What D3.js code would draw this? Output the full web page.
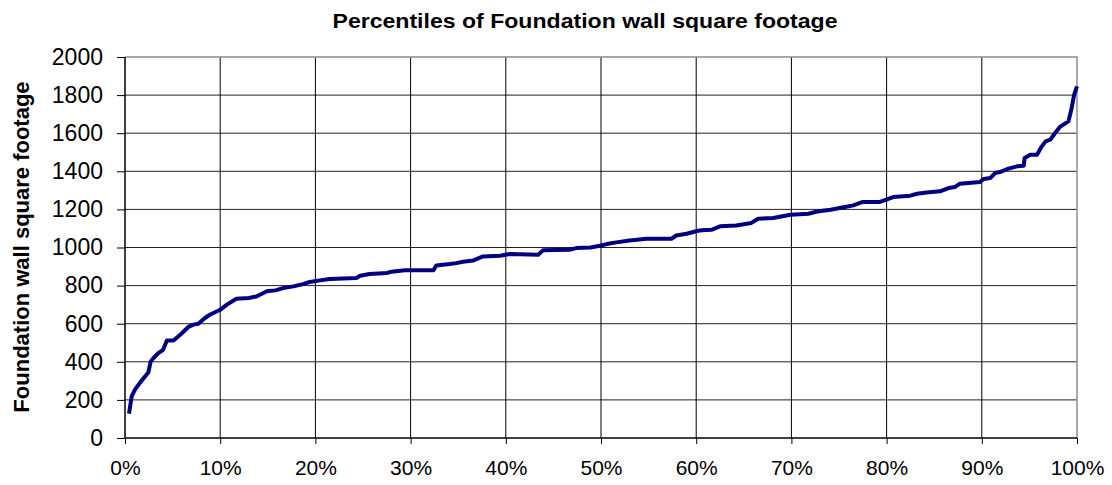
<!DOCTYPE html>
<html>
<head>
<meta charset="utf-8">
<script src="https://cdn.jsdelivr.net/npm/d3@7"></script>
<style>
  body { margin: 0; background: #fff; }
  text { font-family: "Liberation Sans", Arial, sans-serif; }
</style>
</head>
<body>
<div id="chart"></div>
<script>
// percentile (%) and square footage
const percentiles = [0.42, 0.7, 1.05, 1.6, 2.1, 2.45, 2.7, 3.0, 3.5, 4.0, 4.4, 5.1, 5.8, 6.65, 7.2, 7.7, 8.4, 8.9, 10.0,
  10.7, 11.7, 13.0, 13.8, 14.9, 15.8, 16.6, 17.7, 18.7, 19.4, 20.3, 21.5, 24.3, 24.7, 25.7, 27.5, 28.0, 29.4,
  32.4, 32.7, 34.1, 34.8, 35.5, 36.6, 37.6, 39.4, 40.4, 43.4, 43.9, 46.7, 47.4, 48.9, 49.9, 50.6, 51.6, 53.0,
  54.8, 57.4, 57.9, 59.0, 60.2, 60.6, 61.6, 62.5, 64.2, 65.8, 66.5, 68.1, 69.9, 71.8, 72.7, 74.1, 75.5, 76.5,
  77.5, 79.3, 80.7, 82.5, 83.2, 84.2, 85.6, 86.5, 87.2, 87.7, 89.8, 90.2, 90.9, 91.4, 91.9, 92.8, 93.7, 94.4,
  94.5, 95.1, 95.8, 96.3, 96.7, 97.2, 97.7, 98.2, 99.1, 99.4, 99.7, 100];
const footage = [128, 218, 254, 292, 323, 344, 402, 420, 446, 463, 512, 512, 542, 583, 595, 600, 630, 647, 673,
  700, 731, 735, 743, 770, 775, 787, 796, 808, 819, 826, 835, 840, 852, 861, 866, 873, 880,
  880, 906, 913, 918, 925, 932, 953, 957, 966, 962, 985, 988, 997, 1000, 1009, 1018, 1027, 1037,
  1046, 1046, 1063, 1072, 1088, 1090, 1093, 1111, 1116, 1129, 1151, 1155, 1172, 1177, 1189, 1198, 1211, 1221,
  1239, 1239, 1265, 1272, 1282, 1289, 1295, 1312, 1318, 1335, 1344, 1360, 1365, 1391, 1396, 1414, 1426, 1429,
  1470, 1487, 1487, 1531, 1557, 1566, 1601, 1633, 1662, 1723, 1802, 1846];
const xTicks = [0, 10, 20, 30, 40, 50, 60, 70, 80, 90, 100];
const yTicks = [0, 200, 400, 600, 800, 1000, 1200, 1400, 1600, 1800, 2000];

const width = 1112;
const height = 485;
const margin = { top: 57, right: 35, bottom: 47, left: 125 };

const svg = d3.select('#chart')
  .append('svg')
  .attr('width', width)
  .attr('height', height);

const x = d3.scaleLinear()
  .domain([0, 100])
  .range([margin.left, width - margin.right]);

const y = d3.scaleLinear()
  .domain([0, 2000])
  .range([height - margin.bottom, margin.top]);

// gridlines
svg.append('g')
  .selectAll('line')
  .data(yTicks.filter(d => d > 0 && d < 2000))
  .join('line')
  .attr('x1', x(0)).attr('x2', x(100))
  .attr('y1', d => y(d)).attr('y2', d => y(d))
  .attr('stroke', '#222').attr('stroke-width', 1);

svg.append('g')
  .selectAll('line')
  .data(xTicks.filter(d => d > 0 && d < 100))
  .join('line')
  .attr('x1', d => x(d)).attr('x2', d => x(d))
  .attr('y1', y(0)).attr('y2', y(2000))
  .attr('stroke', '#000').attr('stroke-width', 1);

// plot area border (top/right)
svg.append('path')
  .attr('d', `M${x(0)},${y(2000)}H${x(100)}V${y(0)}`)
  .attr('fill', 'none')
  .attr('stroke', '#8c8c8c')
  .attr('stroke-width', 1.5);

const yAxis = (g) => g
  .attr('transform', `translate(${x(0)}, 0)`)
  .call(d3.axisLeft(y).tickValues(yTicks).tickSize(8).tickPadding(14)
    .tickFormat(d3.format('d')))
  .call(g => g.select('.domain').remove());

const xAxis = (g) => g
  .attr('transform', `translate(0, ${y(0)})`)
  .call(d3.axisBottom(x).tickValues(xTicks).tickSize(6).tickPadding(16)
    .tickFormat(d => d + '%'))
  .call(g => g.select('.domain').remove());

svg.append('g').call(yAxis)
  .selectAll('text')
  .attr('font-size', 23)
  .attr('fill', '#000');

svg.append('g').call(xAxis)
  .selectAll('text')
  .attr('font-size', 21)
  .attr('fill', '#000');

svg.selectAll('.tick line').attr('stroke', '#000');

// axis lines
svg.append('line')
  .attr('x1', x(0)).attr('x2', x(0))
  .attr('y1', y(0)).attr('y2', y(2000))
  .attr('stroke', '#000').attr('stroke-width', 1.5);
svg.append('line')
  .attr('x1', x(0)).attr('x2', x(100))
  .attr('y1', y(0)).attr('y2', y(0))
  .attr('stroke', '#000').attr('stroke-width', 1.5);

const line = d3.line()
  .x((d, i) => x(percentiles[i]))
  .y(d => y(d));

svg.append('path')
  .datum(footage)
  .attr('fill', 'none')
  .attr('stroke', '#000080')
  .attr('stroke-width', 4)
  .attr('stroke-linejoin', 'round')
  .attr('d', line);

svg.append('text')
  .attr('x', 585)
  .attr('y', 28)
  .attr('text-anchor', 'middle')
  .attr('font-size', 21)
  .attr('font-weight', 'bold')
  .attr('textLength', 505)
  .attr('lengthAdjust', 'spacingAndGlyphs')
  .text('Percentiles of Foundation wall square footage');

svg.append('text')
  .attr('transform', `translate(29, 247) rotate(-90)`)
  .attr('text-anchor', 'middle')
  .attr('font-size', 22)
  .attr('font-weight', 'bold')
  .text('Foundation wall square footage');
</script>
</body>
</html>
